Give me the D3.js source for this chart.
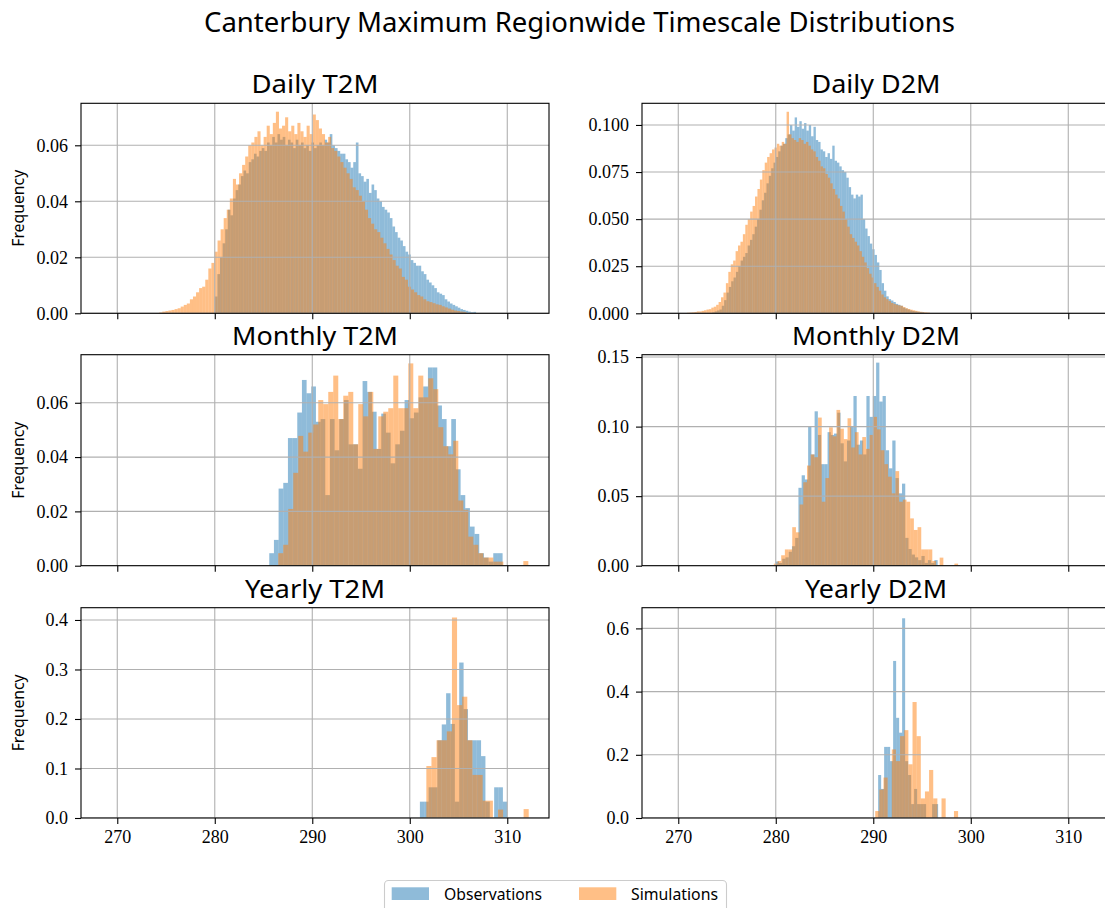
<!DOCTYPE html>
<html><head><meta charset="utf-8">
<script src="https://cdn.jsdelivr.net/npm/d3@7"></script>
<style>body{margin:0;background:#fff} svg{display:block}</style>
</head><body>
<svg id="chart" width="1105" height="908"></svg>
<script>
// ---------- data ----------
const xTicks = [270, 280, 290, 300, 310];
const xDomain = [266.28, 314.28];
const seriesNames = ["Observations", "Simulations"];

// Daily T2M
const dailyT2M_obsRange = [280.0, 306.8];
const dailyT2M_obs = [0.006,0.014,0.020,0.025,0.030,0.037,0.035,0.041,0.044,0.046,
 0.049,0.051,0.050,0.054,0.055,0.057,0.056,0.058,0.059,0.058,
 0.061,0.060,0.063,0.061,0.064,0.062,0.063,0.060,0.062,0.061,
 0.059,0.062,0.060,0.061,0.059,0.060,0.058,0.061,0.059,0.060,
 0.061,0.060,0.062,0.061,0.064,0.060,0.059,0.058,0.057,0.057,
 0.055,0.054,0.052,0.054,0.061,0.050,0.049,0.047,0.048,0.043,
 0.046,0.044,0.041,0.040,0.038,0.037,0.036,0.034,0.031,0.029,
 0.027,0.026,0.024,0.022,0.021,0.019,0.018,0.017,0.017,0.015,
 0.014,0.012,0.011,0.010,0.009,0.0075,0.007,0.0065,0.005,0.0042,
 0.0035,0.003,0.0025,0.002,0.0015,0.0012,0.0009,0.0006,0.0004,0.0005];
const dailyT2M_simRange = [274.3, 305.8];
const dailyT2M_sim = [0.0003,0.0006,0.0008,0.001,0.0012,0.0015,0.0018,0.0024,0.003,0.0035,
 0.005,0.006,0.0075,0.009,0.0095,0.012,0.016,0.018,0.022,0.026,
 0.030,0.034,0.037,0.041,0.048,0.046,0.050,0.053,0.056,0.060,
 0.061,0.063,0.065,0.060,0.063,0.067,0.064,0.068,0.072,0.066,
 0.067,0.070,0.065,0.067,0.064,0.068,0.065,0.063,0.067,0.064,
 0.071,0.069,0.066,0.064,0.061,0.063,0.059,0.058,0.056,0.054,
 0.052,0.050,0.048,0.045,0.044,0.042,0.040,0.037,0.034,0.032,
 0.030,0.029,0.027,0.025,0.023,0.021,0.019,0.017,0.016,0.013,
 0.012,0.0095,0.0085,0.0075,0.0065,0.006,0.005,0.0043,0.004,0.0036,
 0.0032,0.003,0.0025,0.0021,0.0017,0.0013,0.001,0.0008,0.0006,0.0005];

// Daily D2M
const dailyD2M_obsRange = [273.5, 295.2];
const dailyD2M_obs = [0.0005,0.001,0.0015,0.002,
 0.004,0.007,0.011,0.014,
 0.017,0.019,0.022,0.025,0.028,0.030,0.032,0.036,0.039,0.042,
 0.046,0.050,0.055,0.060,0.064,0.069,0.073,0.077,0.080,0.083,
 0.086,0.089,0.090,0.093,0.095,0.100,0.097,0.104,0.099,0.102,
 0.098,0.101,0.097,0.100,0.094,0.099,0.092,0.091,0.087,0.086,
 0.083,0.085,0.082,0.089,0.081,0.080,0.078,0.076,0.075,0.072,
 0.067,0.063,0.061,0.063,0.062,0.063,0.050,0.045,0.041,0.037,
 0.034,0.031,0.027,0.023,0.016,0.012,0.009,0.0075,0.0068,0.006,
 0.005,0.0045,0.004,0.003,0.0025,0.002,0.0015,0.0012,0.001,0.0008,0.0006,0.0005];
const dailyD2M_simRange = [270.9, 295.8];
const dailyD2M_sim = [0.0003,0.0004,0.0005,0.0007,0.001,0.001,0.0013,0.0016,0.002,0.0022,
 0.003,0.0035,0.0045,0.006,0.0085,0.011,0.016,0.022,0.026,0.028,
 0.033,0.036,0.038,0.042,0.047,0.050,0.054,0.057,0.062,0.066,
 0.071,0.076,0.080,0.083,0.085,0.087,0.088,0.090,0.089,0.091,
 0.090,0.107,0.095,0.093,0.092,0.091,0.093,0.092,0.090,0.091,
 0.089,0.087,0.086,0.083,0.081,0.078,0.077,0.074,0.072,0.069,
 0.066,0.063,0.061,0.057,0.054,0.050,0.046,0.042,0.040,0.038,
 0.036,0.033,0.030,0.027,0.024,0.021,0.019,0.016,0.014,0.012,
 0.010,0.0085,0.0075,0.0065,0.0055,0.005,0.0045,0.0042,0.004,0.0033,
 0.0027,0.0023,0.0019,0.0016,0.0013,0.001,0.0008,0.0006,0.0005,0.0004];

// Monthly T2M
const monthlyT2M_obsRange = [285.59, 309.52];
const monthlyT2M_obs = [0.0046,0.0095,0.0284,0.0305,0.047,0.047,0.0564,0.0684,0.0635,0.066,
 0.053,0.054,0.026,0.054,0.0425,0.054,0.061,0.0447,0.0447,0.0357,
 0.068,0.064,0.0567,0.043,0.056,0.049,0.0377,0.0447,0.0497,0.061,
 0.0543,0.0564,0.062,0.066,0.073,0.073,0.059,0.054,0.044,0.054,
 0.0355,0.026,0.0212,0.0144,0.0117,0.0046,0.003,0.0015,0.0046,0.0046];
const monthlyT2M_simRange = [286.51, 312.16];
const monthlyT2M_sim = [0.0046,0.0077,0.0209,0.0342,0.0478,0.042,0.049,0.052,0.061,0.0595,
 0.064,0.070,0.054,0.0626,0.064,0.0447,0.0595,0.055,0.064,0.043,
 0.055,0.0567,0.058,0.070,0.058,0.058,0.0745,0.058,0.070,0.062,
 0.069,0.065,0.051,0.044,0.041,0.046,0.024,0.0206,0.0107,0.0077,
 0.0046,0.003,0.003,0.0015,0.0015,0,0,0,0,0.0017];

// Monthly D2M
const monthlyD2M_obsRange = [280.0, 296.6];
const monthlyD2M_obs = [0.003,0.002,0.005,0.006,0.010,0.014,0.020,0.056,0.065,0.062,
 0.100,0.080,0.111,0.094,0.073,0.073,0.096,0.094,0.095,0.110,
 0.088,0.075,0.090,0.100,0.122,0.087,0.090,0.080,0.122,0.107,
 0.122,0.146,0.118,0.122,0.083,0.070,0.090,0.063,0.052,0.059,
 0.020,0.012,0.008,0.006,0.004,0.007,0.002,0.004,0.002,0.004];
const monthlyD2M_simRange = [279.8, 298.7];
const monthlyD2M_sim = [0.0015,0.0034,0.0075,0.0117,0.0117,0.0277,0.024,0.044,0.060,0.072,
 0.080,0.078,0.1065,0.046,0.063,0.0995,0.093,0.112,0.0985,0.091,
 0.106,0.085,0.096,0.080,0.0925,0.084,0.094,0.107,0.098,0.083,
 0.073,0.064,0.052,0.068,0.046,0.0475,0.046,0.034,0.0257,0.0277,
 0.0117,0.0117,0.0117,0.0034,0,0.0058,0,0,0,0.0015];

// Yearly T2M
const yearlyT2M_obsRange = [301.04, 310.0];
const yearlyT2M_obs = [0.033,0.033,0.062,0.062,0.157,0.189,0.252,0.190,0.033,0.314,
 0.220,0.157,0.157,0.157,0.125,0.033,0,0.062,0.062,0.033];
const yearlyT2M_simRange = [301.7, 312.2];
const yearlyT2M_sim = [0.105,0.123,0.157,0.157,0.175,0.405,0.228,0.245,0.157,0.087,
 0.087,0.035,0.035,0,0.017,0,0,0,0,0.018];

// Yearly D2M
const yearlyD2M_obsRange = [290.5, 296.65];
const yearlyD2M_obs = [0.136,0.092,0.225,0.225,0.180,0.497,0.317,0.270,0.632,0.180,
 0.136,0.044,0.092,0.044,0.044,0.044,0,0,0.044,0.044];
const yearlyD2M_simRange = [290.2, 298.7];
const yearlyD2M_sim = [0.022,0.090,0.128,0,0.217,0.180,0.259,0.278,0.170,0.367,
 0.259,0.062,0.084,0.152,0.062,0,0.062,0,0,0.022];

// y axes
const yMax = [0.075, 0.1115, 0.0777, 0.1517, 0.4248, 0.6655];
const yTicksDailyT2M = [0, 0.02, 0.04, 0.06];
const yTicksDailyD2M = [0, 0.025, 0.05, 0.075, 0.1];
const yTicksMonthlyT2M = [0, 0.02, 0.04, 0.06];
const yTicksMonthlyD2M = [0, 0.05, 0.1, 0.15];
const yTicksYearlyT2M = [0, 0.1, 0.2, 0.3, 0.4];
const yTicksYearlyD2M = [0, 0.2, 0.4, 0.6];

// ---------- layout / style ----------
const W = 1105, H = 908;
const colX = [81, 642], panelW = 468;
const rowY = [103.3, 354.7, 607.7], rowH = [210, 211, 210.3];
const BLUE = "#1f77b4", ORANGE = "#ff7f0e";
const SANS = "'Noto Sans', 'DejaVu Sans', sans-serif";
const SERIF = "'Liberation Serif', 'DejaVu Serif', serif";

const panels = [
  {title:"Daily T2M", row:0, col:0, obs:dailyT2M_obs, obsR:dailyT2M_obsRange, sim:dailyT2M_sim, simR:dailyT2M_simRange, yMax:yMax[0], yTicks:yTicksDailyT2M, fmt:".2f", tw:127},
  {title:"Daily D2M", row:0, col:1, obs:dailyD2M_obs, obsR:dailyD2M_obsRange, sim:dailyD2M_sim, simR:dailyD2M_simRange, yMax:yMax[1], yTicks:yTicksDailyD2M, fmt:".3f", tw:129},
  {title:"Monthly T2M", row:1, col:0, obs:monthlyT2M_obs, obsR:monthlyT2M_obsRange, sim:monthlyT2M_sim, simR:monthlyT2M_simRange, yMax:yMax[2], yTicks:yTicksMonthlyT2M, fmt:".2f", tw:166},
  {title:"Monthly D2M", row:1, col:1, obs:monthlyD2M_obs, obsR:monthlyD2M_obsRange, sim:monthlyD2M_sim, simR:monthlyD2M_simRange, yMax:yMax[3], yTicks:yTicksMonthlyD2M, fmt:".2f", tw:168},
  {title:"Yearly T2M", row:2, col:0, obs:yearlyT2M_obs, obsR:yearlyT2M_obsRange, sim:yearlyT2M_sim, simR:yearlyT2M_simRange, yMax:yMax[4], yTicks:yTicksYearlyT2M, fmt:".1f", tw:140},
  {title:"Yearly D2M", row:2, col:1, obs:yearlyD2M_obs, obsR:yearlyD2M_obsRange, sim:yearlyD2M_sim, simR:yearlyD2M_simRange, yMax:yMax[5], yTicks:yTicksYearlyD2M, fmt:".1f", tw:142}
];

const svg = d3.select("#chart");
svg.append("rect").attr("width", W).attr("height", H).attr("fill", "#fff");

svg.append("text")
  .attr("x", 579.5).attr("y", 32)
  .attr("text-anchor", "middle")
  .attr("font-family", SANS).attr("font-size", 28)
  .attr("textLength", 751).attr("lengthAdjust", "spacingAndGlyphs")
  .attr("fill", "#000")
  .text("Canterbury Maximum Regionwide Timescale Distributions");

function binsOf(values, range) {
  const w = (range[1] - range[0]) / values.length;
  return values.map((v, i) => ({x0: range[0] + i * w, x1: range[0] + (i + 1) * w, v}));
}

panels.forEach(p => {
  const x0 = colX[p.col], y0 = rowY[p.row], h = rowH[p.row];
  const g = svg.append("g").attr("transform", `translate(${x0},${y0})`);
  const x = d3.scaleLinear().domain(xDomain).range([0, panelW]);
  const y = d3.scaleLinear().domain([0, p.yMax]).range([h, 0]);

  const clipId = `clip-${p.row}-${p.col}`;
  g.append("clipPath").attr("id", clipId).append("rect").attr("width", panelW).attr("height", h);
  const plot = g.append("g").attr("clip-path", `url(#${clipId})`);

  [[p.obs, p.obsR, BLUE], [p.sim, p.simR, ORANGE]].forEach(([vals, r, color]) => {
    plot.append("g").selectAll("rect")
      .data(binsOf(vals, r).filter(d => d.v > 0))
      .join("rect")
      .attr("x", d => x(d.x0))
      .attr("width", d => x(d.x1) - x(d.x0))
      .attr("y", d => y(d.v))
      .attr("height", d => y(0) - y(d.v))
      .attr("fill", color).attr("fill-opacity", 0.5);
  });

  // grid (above bars, as matplotlib)
  const grid = plot.append("g").attr("stroke", "#b0b0b0").attr("stroke-width", 1.1);
  grid.selectAll("line.gx").data(xTicks).join("line").attr("class", "gx")
    .attr("x1", d => x(d)).attr("x2", d => x(d)).attr("y1", 0).attr("y2", h);
  grid.selectAll("line.gy").data(p.yTicks).join("line").attr("class", "gy")
    .attr("x1", 0).attr("x2", panelW).attr("y1", d => y(d)).attr("y2", d => y(d));

  // axes
  const xAxis = d3.axisBottom(x).tickValues(xTicks).tickSize(6).tickPadding(6)
    .tickFormat(p.row === 2 ? d3.format("d") : () => "");
  const gx = g.append("g").attr("transform", `translate(0,${h})`).call(xAxis);
  const yAxis = d3.axisLeft(y).tickValues(p.yTicks).tickSize(6).tickPadding(7).tickFormat(d3.format(p.fmt));
  const gy = g.append("g").call(yAxis);
  [gx, gy].forEach(a => {
    a.select(".domain").remove();
    a.selectAll(".tick line").attr("stroke", "#000").attr("stroke-width", 1.1);
    a.selectAll(".tick text").attr("font-family", SERIF).attr("font-size", 18).attr("fill", "#000");
  });

  // spines
  g.append("rect").attr("width", panelW).attr("height", h)
    .attr("fill", "none").attr("stroke", "#000").attr("stroke-width", 1.1);

  // title
  g.append("text").attr("x", panelW / 2).attr("y", -10)
    .attr("text-anchor", "middle").attr("font-family", SANS).attr("font-size", 25)
    .attr("textLength", p.tw).attr("lengthAdjust", "spacingAndGlyphs")
    .attr("fill", "#000").text(p.title);

  if (p.col === 0) {
    g.append("text")
      .attr("transform", `translate(${19 - x0 + 5},${h / 2}) rotate(-90)`)
      .attr("text-anchor", "middle").attr("font-family", SANS).attr("font-size", 15.5)
      .attr("textLength", 77).attr("lengthAdjust", "spacingAndGlyphs")
      .attr("fill", "#000").text("Frequency");
  }
});

// legend
const lg = svg.append("g");
lg.append("rect").attr("x", 384.5).attr("y", 880.5).attr("width", 342).attr("height", 40)
  .attr("rx", 4).attr("fill", "#fff").attr("fill-opacity", 0.8)
  .attr("stroke", "#cccccc").attr("stroke-width", 1.1);
const legendItems = [
  {name: seriesNames[0], color: BLUE, px: 391.7, tx: 444, tw: 98},
  {name: seriesNames[1], color: ORANGE, px: 579, tx: 631, tw: 87}
];
legendItems.forEach(it => {
  lg.append("rect").attr("x", it.px).attr("y", 887.3).attr("width", 37.3).attr("height", 12.7)
    .attr("fill", it.color).attr("fill-opacity", 0.5);
  lg.append("text").attr("x", it.tx).attr("y", 899.5)
    .attr("font-family", SANS).attr("font-size", 17)
    .attr("textLength", it.tw).attr("lengthAdjust", "spacingAndGlyphs")
    .attr("fill", "#000").text(it.name);
});
</script>
</body></html>
